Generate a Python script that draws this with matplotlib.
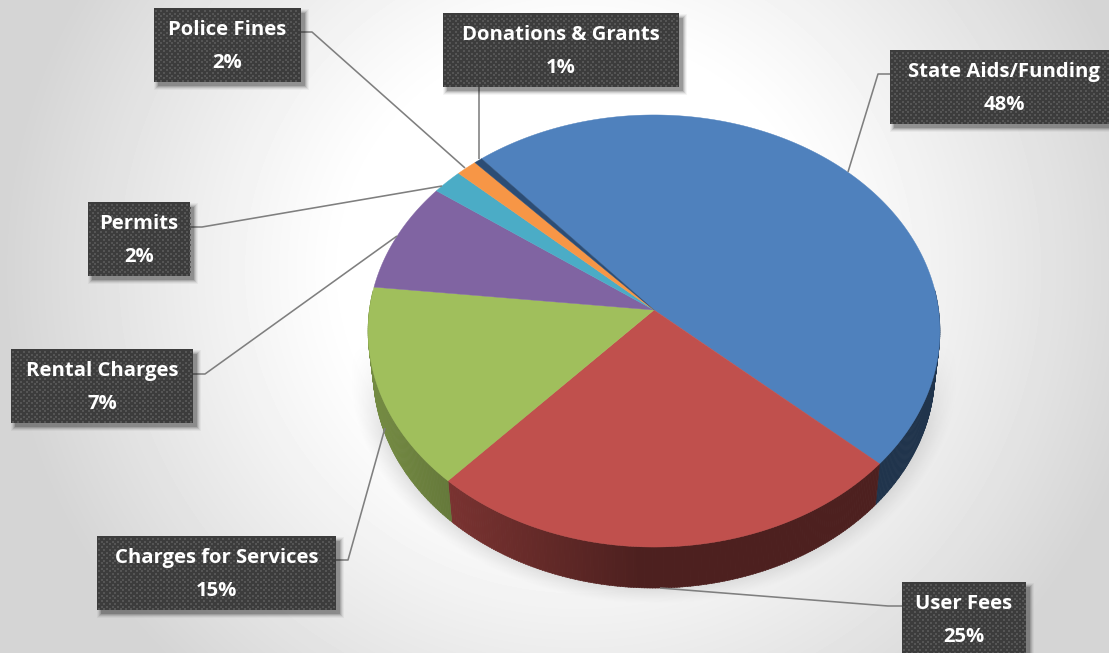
import numpy as np
import matplotlib
matplotlib.use("Agg")
import matplotlib.pyplot as plt
from matplotlib.patches import Polygon, Rectangle

categories = ["State Aids/Funding", "User Fees", "Charges for Services", "Rental Charges",
              "Permits", "Police Fines", "Donations & Grants"]
pct_labels = ["48%", "25%", "15%", "7%", "2%", "2%", "1%"]
shares = [48.0, 25.0, 15.0, 8.3, 1.9, 1.3, 0.5]
colors = ["#4f81bd", "#c0504d", "#a0bf5c", "#8064a2", "#4bacc6", "#f79646", "#2c4d75"]

W, H = 1109, 653
fig = plt.figure(figsize=(W / 100, H / 100), dpi=100)
ax = fig.add_axes([0, 0, 1, 1])
ax.set_xlim(0, W)
ax.set_ylim(H, 0)
ax.axis("off")

# ---- background
yy, xx = np.mgrid[0:H, 0:W] + 0.5
d = np.sqrt(((xx - 580) / 580) ** 2 + ((yy - 270) / 560) ** 2)
bg = 255 - 42 * np.clip((d - 0.42) / 0.58, 0, 1) ** 1.1
ax.imshow(np.clip(bg, 0, 255).astype(np.uint8), cmap="gray", vmin=0, vmax=255,
          extent=(0, W, H, 0), aspect="auto", zorder=0, interpolation="bilinear")

# ---- pie geometry (perspective projection of a disc)
CX, CY, PX, A, C, DEPTH, SHRINK = 654, 310, 284.6, 214.0, 0.0972, 41, 0.982
START = -40.6


def rim(theta_deg):
    t = np.radians(theta_deg)
    u, v = np.sin(t), np.cos(t)
    k = 1 + C * v
    return CX + PX * u / k, CY - A * v / k


# ---- soft cast shadow
e = np.sqrt(((xx - 654) / 304) ** 2 + ((yy - 372) / 232) ** 2)
soft = np.clip((1.0 - e) / 0.14, 0, 1) ** 1.2
soft *= np.clip((yy - 345) / 90, 0, 1)
soft[(yy > 603)] = 0
soft[(xx < 350) | (xx > 960)] = 0
shadow = np.zeros((H, W, 4))
shadow[..., :3] = 0.62
shadow[..., 3] = 0.62 * soft
ax.imshow(shadow, extent=(0, W, H, 0), aspect="auto", zorder=1, interpolation="bilinear")

# ---- side wall and top of the pie
edges = START + 360 * np.concatenate([[0], np.cumsum(shares)]) / np.sum(shares)
for i, col in enumerate(colors):
    a0, a1 = edges[i], edges[i + 1]
    rgb = np.array(matplotlib.colors.to_rgb(col))
    steps = np.arange(a0, a1, 0.5)
    for s in steps:
        t0, t1 = s, min(s + 0.6, a1)
        if not (85 <= ((t0 + 360) % 360) <= 275 or 85 <= ((t1 + 360) % 360) <= 275):
            continue
        x0, y0 = rim(t0)
        x1, y1 = rim(t1)
        xb0 = CX + (x0 - CX) * SHRINK
        xb1 = CX + (x1 - CX) * SHRINK
        f = np.interp((x0 + x1) / 2, [380, 450, 640], [0.72, 0.63, 0.40])
        ax.add_patch(Polygon([(x0, y0), (x1, y1), (xb1, y1 + DEPTH), (xb0, y0 + DEPTH)],
                             closed=True, fc=rgb * f, ec=rgb * f, lw=0.4, zorder=2))

for i, col in enumerate(colors):
    th = np.linspace(edges[i], edges[i + 1], max(int(edges[i + 1] - edges[i]) * 2, 8))
    x, y = rim(th)
    pts = np.column_stack([np.r_[CX, x], np.r_[CY, y]])
    ax.add_patch(Polygon(pts, closed=True, fc=col, ec=col, lw=0.3, zorder=3))

# ---- leader lines
leaders = {
    "State Aids/Funding": [(890, 74), (878, 74), (848, 172)],
    "User Fees": [(902, 606), (888, 606), (660, 588)],
    "Charges for Services": [(336, 560), (348, 560), (385, 428)],
    "Rental Charges": [(193, 374), (205, 374), (397, 236)],
    "Permits": [(190, 227), (202, 227), (442, 186)],
    "Police Fines": [(301, 32), (312, 32), (465, 168)],
    "Donations & Grants": [(479, 87), (479, 159)],
}
for pts in leaders.values():
    ax.plot(*zip(*pts), color="#7f7f7f", lw=1.15, zorder=4, solid_capstyle="butt",
            solid_joinstyle="round")

# ---- label boxes
boxes = {
    "State Aids/Funding": (890, 50, 1125, 124),
    "User Fees": (902, 582, 1026, 656),
    "Charges for Services": (97, 536, 336, 610),
    "Rental Charges": (11, 349, 193, 423),
    "Permits": (88, 202, 190, 276),
    "Police Fines": (154, 8, 301, 82),
    "Donations & Grants": (443, 13, 679, 87),
}
centers = {"State Aids/Funding": 1004}
for name, pct in zip(categories, pct_labels):
    x0, y0, x1, y1 = boxes[name]
    for grow, alpha in [(1, 0.16), (2, 0.12), (3, 0.09), (4, 0.06), (5, 0.04)]:
        ax.add_patch(Rectangle((x0 + 5 - grow, y0 + 6 - grow), x1 - x0 + 2 * grow - 2,
                               y1 - y0 + 2 * grow - 3, fc="#000000", ec="none",
                               alpha=alpha, zorder=5))
    box = Rectangle((x0, y0), x1 - x0, y1 - y0, fc="#3c3c3c", ec="none", zorder=6)
    ax.add_patch(box)
    gx, gy = [], []
    for r, gyv in enumerate(np.arange(y0 + 3, y1, 2.7)):
        for gxv in np.arange(x0 + 2 + (r % 2) * 2.7, x1, 5.4):
            gx.append(gxv)
            gy.append(gyv)
    pts = ax.scatter(gx, gy, s=2.2, marker="s", c="#555555", linewidths=0, zorder=7)
    pts.set_clip_path(box)
    cx = centers.get(name, (x0 + x1) / 2)
    ax.text(cx, y0 + 22, name, color="white", ha="center", va="center", fontsize=14.6,
            fontweight="bold", family="Open Sans", zorder=8)
    ax.text(cx, y0 + 55, pct, color="white", ha="center", va="center", fontsize=14.6,
            fontweight="bold", family="Open Sans", zorder=8)

fig.savefig("out.png", dpi=100)
